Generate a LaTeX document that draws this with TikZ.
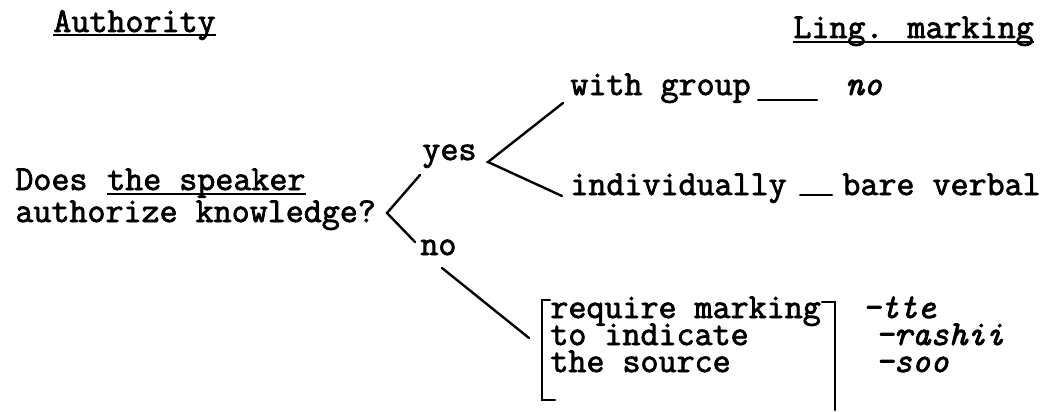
\documentclass[tikz,border=0pt]{standalone}
\usepackage{fontspec}
\newfontfamily\typew{Latin Modern Mono}[AutoFakeBold=2.2]
\newfontfamily\typewit{lmmono10-italic.otf}[FakeBold=2.2]
\usetikzlibrary{calc}
\tikzset{
  txt/.style={anchor=base west, inner sep=0pt, text height=10pt, text depth=2.5pt,
    font=\fontsize{17.5}{20}\selectfont\typew\bfseries},
  itxt/.style={txt, font=\fontsize{17.5}{20}\selectfont\typewit},
  ln/.style={line width=1.2pt, line cap=round},
  uline/.style={line width=1pt},
}
\begin{document}
\begin{tikzpicture}[x=0.5pt,y=-0.5pt]
\useasboundingbox (0,0) rectangle (1050,412);
% headings
\node[txt] (auth) at (53,32) {Authority};
\node[txt] (ling) at (793,38) {Ling. marking};
\draw[uline] ($(auth.base west)+(0,3)$) -- ($(auth.base east)+(0,3)$);
\draw[uline] ($(ling.base west)+(0,4)$) -- ($(ling.base east)+(0,4)$);
% question
\node[txt] (does) at (15,190) {Does};
\node[txt] (spk) at (106.8,190) {the speaker};
\draw[uline] ($(spk.base west)+(0,4)$) -- ($(spk.base east)+(0,4)$);
\node[txt] (auk) at (15,222) {authorize knowledge?};
% first split
\node[txt] (yes) at (422,160) {yes};
\node[txt] (no) at (420,255) {no};
\coordinate (v1) at (387,213);
\coordinate (y1) at (420,175);
\coordinate (n1) at (415,242);
\draw[ln] (y1) -- (v1) -- (n1);
% yes split
\node[txt] (grp) at (570,95) {with group};
\node[txt] (ind) at (570,195) {individually};
\coordinate (v2) at (488,162);
\coordinate (g1) at (563,103);
\coordinate (i1) at (562,196);
\draw[ln] (g1) -- (v2) -- (i1);
\node[itxt] (nomark) at (845,95) {no};
\node[txt] (bare) at (842,195) {bare verbal};
\draw[ln] ($(grp.base east)+(7,5)$) -- ($(nomark.base west)+(-28,5)$);
\draw[ln] ($(ind.base east)+(13,0)$) -- ($(bare.base west)+(-10,0)$);
% no branch
\coordinate (n2) at (442,268);
\coordinate (r1) at (529,338);
\draw[ln] (n2) -- (r1);
\node[txt] (req) at (550,318) {require marking};
\node[txt] (toi) at (550,345) {to indicate};
\node[txt] (src) at (550,372) {the source};
\draw[ln] (550,300) -- (542,300) -- (542,400) -- (555,400);
\draw[ln] (822,302) -- (835,302) -- (835,410);
\node[itxt] (tte) at (862,318) {-tte};
\node[itxt] (rashii) at (875,345) {-rashii};
\node[itxt] (soo) at (875,372) {-soo};
\end{tikzpicture}
\end{document}
